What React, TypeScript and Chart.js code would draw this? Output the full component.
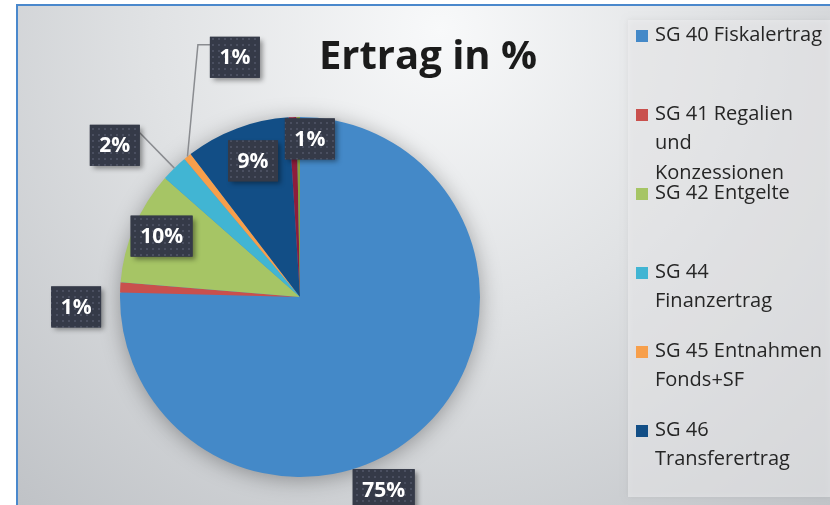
import React, { useEffect, useRef } from "react";
import { Chart, registerables } from "chart.js";

Chart.register(...registerables);

// ---- data ----
const categories: string[] = [
  "SG 40 Fiskalertrag",
  "SG 41 Regalien und Konzessionen",
  "SG 42 Entgelte",
  "SG 44 Finanzertrag",
  "SG 45 Entnahmen Fonds+SF",
  "SG 46 Transferertrag",
  "SG 47 Durchlaufende Beiträge",
  "SG 48 Ausserordentlicher Ertrag",
];
const legendLines: string[][] = [
  ["SG 40 Fiskalertrag"],
  ["SG 41 Regalien", "und", "Konzessionen"],
  ["SG 42 Entgelte"],
  ["SG 44", "Finanzertrag"],
  ["SG 45 Entnahmen", "Fonds+SF"],
  ["SG 46", "Transferertrag"],
];
const values: number[] = [75.4, 0.9, 10.2, 2.4, 0.7, 9.4, 0.7, 0.3];
const titleText = "Ertrag in %";

// ---- styles ----
const colors = ["#4489c8", "#c9504d", "#a6c565", "#41b5d3", "#f79f4b", "#124e86", "#8e1d3b", "#86a23f"];
const labelShift = [20.8, -5.6, 0.7, -6.4, 23.5, 1.5, 5.9, 0];
const labelRadius = [1.167, 1.245, 0.84, 1.33, 1.38, 0.8, 0.88, 0];
const showLabel = [true, true, true, true, true, true, true, false];
const leaderType = [0, 0, 0, 1, 2, 0, 0, 0];

let dotPattern: CanvasPattern | null = null;
function getPattern(ctx: CanvasRenderingContext2D) {
  if (dotPattern) return dotPattern;
  const c = document.createElement("canvas");
  c.width = 6;
  c.height = 6;
  const p = c.getContext("2d")!;
  p.fillStyle = "#353a48";
  p.fillRect(0, 0, 6, 6);
  p.fillStyle = "#4a4f60";
  p.fillRect(2, 2, 2, 2);
  dotPattern = ctx.createPattern(c, "repeat");
  return dotPattern;
}

const decor = {
  id: "decor",
  beforeDraw(chart: any) {
    const ctx: CanvasRenderingContext2D = chart.ctx;
    const W = chart.width;
    const H = chart.height;
    ctx.save();
    ctx.fillStyle = "#ffffff";
    ctx.fillRect(0, 0, W, H);
    const g = ctx.createRadialGradient(440, 30, 0, 440, 30, 640);
    g.addColorStop(0, "#f8f9fa");
    g.addColorStop(0.45, "#e0e2e4");
    g.addColorStop(1, "#bfc2c6");
    ctx.fillStyle = g;
    ctx.fillRect(17, 5, W - 17, H - 5);
    // frame
    ctx.fillStyle = "#4a88cc";
    ctx.fillRect(16, 4, W - 16, 2);
    ctx.fillRect(16, 4, 2, H - 4);
    // legend box
    ctx.shadowColor = "rgba(0,0,0,0.12)";
    ctx.shadowBlur = 6;
    ctx.fillStyle = "rgba(240,241,243,0.55)";
    ctx.fillRect(628, 20, W - 628, 477);
    ctx.shadowColor = "transparent";
    // title
    ctx.fillStyle = "#1b1b1b";
    ctx.font = 'bold 40px "Open Sans"';
    ctx.textAlign = "center";
    ctx.textBaseline = "alphabetic";
    ctx.fillText(titleText, 428, 69);
    // legend
    ctx.font = '20px "Open Sans"';
    ctx.textAlign = "left";
    ctx.textBaseline = "middle";
    legendLines.forEach((lines, i) => {
      const y0 = 35 + i * 79;
      ctx.fillStyle = colors[i];
      ctx.fillRect(636, y0 - 5, 12, 12);
      ctx.fillStyle = "#262626";
      lines.forEach((t, j) => ctx.fillText(t, 655, y0 + j * 29.5));
    });
    ctx.restore();
  },
  beforeDatasetsDraw(chart: any) {
    const ctx: CanvasRenderingContext2D = chart.ctx;
    const el = chart.getDatasetMeta(0).data[0];
    if (!el) return;
    const { x, y, outerRadius } = el.getProps(["x", "y", "outerRadius"], true);
    ctx.save();
    ctx.shadowColor = "rgba(0,0,0,0.35)";
    ctx.shadowBlur = 22;
    ctx.shadowOffsetY = 3;
    ctx.beginPath();
    ctx.arc(x, y, outerRadius - 1, 0, Math.PI * 2);
    ctx.fillStyle = colors[0];
    ctx.fill();
    ctx.restore();
  },
  afterDatasetsDraw(chart: any) {
    const ctx: CanvasRenderingContext2D = chart.ctx;
    const meta = chart.getDatasetMeta(0);
    const data: number[] = chart.data.datasets[0].data;
    const total = data.reduce((a, b) => a + b, 0);
    ctx.save();
    ctx.font = 'bold 21px "Open Sans"';
    ctx.textAlign = "center";
    ctx.textBaseline = "middle";
    meta.data.forEach((el: any, i: number) => {
      if (!showLabel[i]) return;
      const p = el.getProps(["x", "y", "startAngle", "endAngle", "outerRadius"], true);
      const mid = (p.startAngle + p.endAngle) / 2;
      const a = mid + (labelShift[i] * Math.PI) / 180;
      const r = p.outerRadius * labelRadius[i];
      const cx = p.x + r * Math.cos(a);
      const cy = p.y + r * Math.sin(a);
      const text = Math.round((data[i] / total) * 100) + "%";
      const tw = ctx.measureText(text).width;
      const bw = tw + 19;
      const bh = 41;
      const bx = cx - bw / 2;
      const by = cy - bh / 2;
      if (leaderType[i]) {
        const ex = p.x + p.outerRadius * Math.cos(mid);
        const ey = p.y + p.outerRadius * Math.sin(mid);
        ctx.strokeStyle = "#8a8c90";
        ctx.lineWidth = 1.5;
        ctx.beginPath();
        ctx.moveTo(ex, ey);
        if (leaderType[i] === 1) {
          ctx.lineTo(ex > cx ? bx + bw : bx, by + 8);
        } else {
          const ax = ex > cx ? bx + bw : bx;
          const stub = ex > cx ? 12 : -12;
          ctx.lineTo(ax + stub, by + 8);
          ctx.lineTo(ax, by + 8);
        }
        ctx.stroke();
      }
      ctx.save();
      ctx.shadowColor = "rgba(0,0,0,0.4)";
      ctx.shadowBlur = 5;
      ctx.shadowOffsetX = 3;
      ctx.shadowOffsetY = 3;
      ctx.fillStyle = "#353a48";
      ctx.fillRect(bx, by, bw, bh);
      ctx.restore();
      ctx.fillStyle = getPattern(ctx) || "#353a48";
      ctx.fillRect(bx, by, bw, bh);
      ctx.fillStyle = "#ffffff";
      ctx.fillText(text, cx, cy + 1);
    });
    ctx.restore();
  },
};

export default function App() {
  const ref = useRef<HTMLCanvasElement | null>(null);
  useEffect(() => {
    document.body.style.margin = "0";
    const canvas = ref.current!;
    const chart = new Chart(canvas, {
      type: "pie",
      data: {
        labels: categories,
        datasets: [
          {
            data: values,
            backgroundColor: colors,
            borderWidth: 0,
          },
        ],
      },
      options: {
        responsive: false,
        animation: false,
        devicePixelRatio: 1,
        layout: { padding: { left: 120, right: 350, top: 117, bottom: 28 } },
        plugins: {
          legend: { display: false },
          title: { display: false },
          tooltip: { enabled: false },
        },
      },
      plugins: [decor],
    });
    return () => chart.destroy();
  }, []);
  return (
    <div style={{ width: 830, height: 505 }}>
      <canvas ref={ref} width={830} height={505} style={{ display: "block" }} />
    </div>
  );
}
